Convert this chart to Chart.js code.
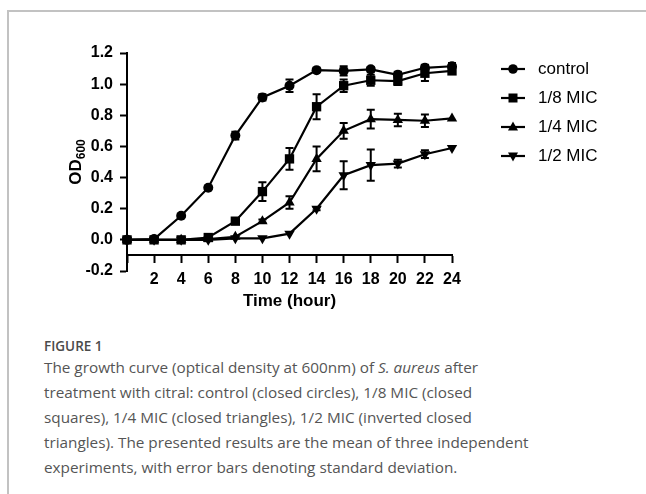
<!DOCTYPE html>
<html lang="en">
<head>
<meta charset="UTF-8">
<title>Growth curve of S. aureus</title>
<script src="https://cdn.jsdelivr.net/npm/chart.js"></script>
<style>
  body { margin: 0; width: 646px; height: 494px; overflow: hidden; background: #fff; position: relative; }
  /* grey page frame, open at right and bottom */
  .frame { position: absolute; left: 7px; top: 10px; width: 700px; height: 600px;
           border-top: 2px solid #c2c2c2; border-left: 2px solid #c2c2c2; }
  #wrap { position: absolute; left: 0; top: 0; width: 646px; height: 330px; }
  .legend { position: absolute; left: 501px; top: 54px; font-family: "Liberation Sans", Arial, sans-serif;
            font-size: 17px; color: #000; }
  .legend div { height: 29px; display: flex; align-items: center; }
  .legend svg { margin-right: 13px; }
  .fig { position: absolute; left: 44px; top: 337px; font-family: "Open Sans", sans-serif;
         font-size: 13.5px; font-weight: 600; color: #4a4a4a; line-height: 18px; }
  .cap { position: absolute; left: 44px; top: 355px; font-family: "Open Sans", sans-serif;
         font-size: 15.3px; color: #555; line-height: 25px; white-space: nowrap; }
</style>
</head>
<body>
<div class="frame"></div>
<div id="wrap"><canvas id="growthChart"></canvas></div>
<div class="legend" id="legend"></div>
<div class="fig">FIGURE 1</div>
<div class="cap">
  The growth curve (optical density at 600nm) of <i>S. aureus</i> after<br>
  treatment with citral: control (closed circles), 1/8 MIC (closed<br>
  squares), 1/4 MIC (closed triangles), 1/2 MIC (inverted closed<br>
  triangles). The presented results are the mean of three independent<br>
  experiments, with error bars denoting standard deviation.
</div>

<script>
  // data
  var hours = [0, 2, 4, 6, 8, 10, 12, 14, 16, 18, 20, 22, 24];
  var seriesNames = ['control', '1/8 MIC', '1/4 MIC', '1/2 MIC'];

  var control   = [0.00, 0.005, 0.155, 0.335, 0.67, 0.915, 0.99, 1.09, 1.085, 1.095, 1.06, 1.105, 1.115];
  var controlSd = [0, 0, 0.01, 0.01, 0.025, 0.02, 0.04, 0.01, 0.03, 0.015, 0.02, 0.02, 0.02];

  var mic8   = [0, 0, 0, 0.015, 0.12, 0.31, 0.52, 0.855, 0.99, 1.025, 1.02, 1.07, 1.085];
  var mic8Sd = [0, 0, 0, 0.01, 0.01, 0.06, 0.07, 0.08, 0.04, 0.035, 0.025, 0.05, 0.02];

  var mic4   = [0, 0, 0, 0.005, 0.02, 0.12, 0.24, 0.52, 0.70, 0.775, 0.77, 0.765, 0.78];
  var mic4Sd = [0, 0, 0, 0, 0, 0.01, 0.04, 0.08, 0.05, 0.06, 0.04, 0.04, 0];

  var mic2   = [0, 0, 0, 0, 0.01, 0.01, 0.04, 0.20, 0.415, 0.48, 0.49, 0.55, 0.59];
  var mic2Sd = [0, 0, 0, 0, 0, 0, 0, 0.01, 0.09, 0.10, 0.025, 0.025, 0];

  var yTicks = [-0.2, 0.0, 0.2, 0.4, 0.6, 0.8, 1.0, 1.2];

  function pts(vals) {
    return hours.map(function (h, i) { return { x: h, y: vals[i] }; });
  }

  // vertical error bars with caps
  var errorBars = {
    id: 'errorBars',
    beforeDatasetsDraw: function (chart) {
      var ctx = chart.ctx, xs = chart.scales.x, ys = chart.scales.y;
      ctx.save();
      ctx.strokeStyle = '#000';
      ctx.lineWidth = 2;
      chart.data.datasets.forEach(function (ds) {
        ds.data.forEach(function (p, i) {
          var sd = ds.errors[i];
          if (!sd) return;
          var px = xs.getPixelForValue(p.x);
          var top = ys.getPixelForValue(p.y + sd);
          var bot = ys.getPixelForValue(p.y - sd);
          ctx.beginPath();
          ctx.moveTo(px, top); ctx.lineTo(px, bot);
          ctx.moveTo(px - 4, top); ctx.lineTo(px + 4, top);
          ctx.moveTo(px - 4, bot); ctx.lineTo(px + 4, bot);
          ctx.stroke();
        });
      });
      ctx.restore();
    }
  };

  // y title with subscript
  var yTitle = {
    id: 'yTitle',
    afterDraw: function (chart) {
      var ctx = chart.ctx;
      ctx.save();
      ctx.translate(75, 162);
      ctx.rotate(-Math.PI / 2);
      ctx.fillStyle = '#000';
      ctx.textBaseline = 'alphabetic';
      ctx.font = 'bold 17px "Liberation Sans", Arial';
      var w1 = ctx.measureText('OD').width;
      ctx.font = 'bold 12px "Liberation Sans", Arial';
      var w2 = ctx.measureText('600').width;
      var x0 = -(w1 + w2) / 2;
      ctx.font = 'bold 17px "Liberation Sans", Arial';
      ctx.fillText('OD', x0, 6);
      ctx.font = 'bold 12px "Liberation Sans", Arial';
      ctx.fillText('600', x0 + w1, 10);
      ctx.restore();
    }
  };

  function line(label, vals, sd, style, radius, rot) {
    return {
      label: label,
      data: pts(vals),
      errors: sd,
      borderColor: '#000',
      backgroundColor: '#000',
      borderWidth: 2.2,
      pointStyle: style,
      pointRadius: radius,
      pointRotation: rot || 0,
      pointBorderWidth: 0,
      pointBackgroundColor: '#000',
      tension: 0,
      clip: false
    };
  }

  var ctx = document.getElementById('growthChart').getContext('2d');
  var chart = new Chart(ctx, {
    type: 'line',
    data: {
      datasets: [
        line(seriesNames[3], mic2, mic2Sd, 'triangle', 6, 180),
        line(seriesNames[2], mic4, mic4Sd, 'triangle', 6),
        line(seriesNames[1], mic8, mic8Sd, 'rect', 6.6),
        line(seriesNames[0], control, controlSd, 'circle', 5)
      ]
    },
    options: {
      responsive: true,
      maintainAspectRatio: false,
      animation: false,
      layout: { padding: { left: 77, top: 53, right: 194, bottom: 59 } },
      plugins: { legend: { display: false }, tooltip: { enabled: false } },
      scales: {
        x: {
          type: 'linear',
          min: 0, max: 24,
          position: { y: -0.1 },
          ticks: {
            stepSize: 2,
            color: '#000',
            padding: 8,
            maxRotation: 0,
            font: { family: '"Liberation Sans", Arial', size: 16, weight: 'bold' },
            callback: function (v) { return v === 0 ? '' : v; }
          },
          grid: { display: true, drawOnChartArea: false, drawTicks: true, tickLength: 7,
                  tickColor: '#000', tickWidth: 2 },
          border: { display: true, color: '#000', width: 2 },
          title: { display: false }
        },
        y: {
          min: -0.2, max: 1.2,
          afterFit: function (s) { s.width = 50; },
          afterBuildTicks: function (s) { s.ticks = yTicks.map(function (v) { return { value: v }; }); },
          ticks: {
            color: '#000',
            padding: 7,
            font: { family: '"Liberation Sans", Arial', size: 16, weight: 'bold' },
            callback: function (v) { return v.toFixed(1); }
          },
          grid: { display: true, drawOnChartArea: false, drawTicks: true, tickLength: 7,
                  tickColor: '#000', tickWidth: 2 },
          border: { display: true, color: '#000', width: 2 }
        }
      }
    },
    plugins: [errorBars, yTitle, {
      id: 'xTitle',
      afterDraw: function (c) {
        var g = c.ctx;
        g.save();
        g.fillStyle = '#000';
        g.font = 'bold 17px "Liberation Sans", Arial';
        g.textAlign = 'center';
        g.textBaseline = 'middle';
        g.fillText('Time (hour)', (c.chartArea.left + c.chartArea.right) / 2, 301);
        g.restore();
      }
    }]
  });

  // legend: line with marker, like the original figure
  var markers = {
    'control': '<circle cx="12" cy="7" r="4.8" fill="#000"/>',
    '1/8 MIC': '<rect x="7.5" y="2.5" width="9" height="9" fill="#000"/>',
    '1/4 MIC': '<path d="M12 1.5 L17 10.5 L7 10.5 Z" fill="#000"/>',
    '1/2 MIC': '<path d="M12 12.5 L17 3.5 L7 3.5 Z" fill="#000"/>'
  };
  var legendHtml = '';
  seriesNames.forEach(function (n) {
    legendHtml += '<div><svg width="24" height="14"><line x1="0" y1="7" x2="24" y2="7" stroke="#000" stroke-width="2.2"/>'
      + markers[n] + '</svg>' + n + '</div>';
  });
  document.getElementById('legend').innerHTML = legendHtml;
</script>
</body>
</html>
